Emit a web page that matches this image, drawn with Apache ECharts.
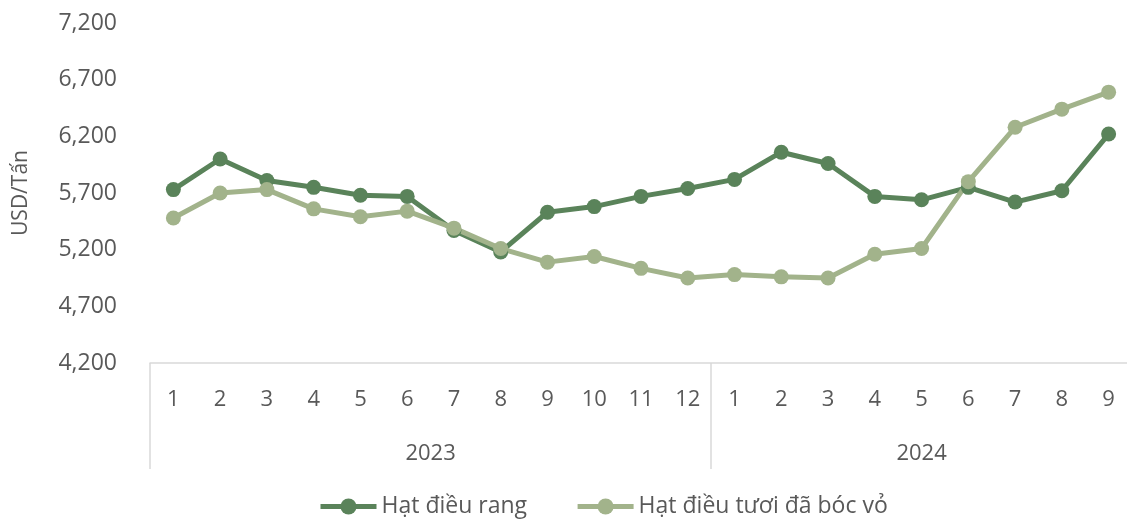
<!DOCTYPE html>
<html>
<head>
<meta charset="utf-8">
<script src="https://cdn.jsdelivr.net/npm/echarts@6/dist/echarts.min.js"></script>
<style>html,body{margin:0;padding:0;background:#fff;}#c{width:1127px;height:519px;}</style>
</head>
<body>
<div id="c"></div>
<script>
const months = ['1','2','3','4','5','6','7','8','9','10','11','12','1','2','3','4','5','6','7','8','9'];
const years = ['2023','2024'];
const yearSpans = [12, 9];
const roasted = [5730,6000,5810,5750,5680,5670,5370,5180,5530,5580,5670,5740,5820,6060,5960,5670,5640,5750,5620,5720,6220];
const fresh = [5480,5700,5730,5560,5490,5540,5390,5210,5090,5140,5035,4950,4980,4960,4950,5160,5210,5800,6280,6440,6590];
const seriesNames = ['Hạt điều rang','Hạt điều tươi đã bóc vỏ'];
const yMin = 4200, yMax = 7200, yStep = 500;

const font = 'Open Sans';
const txt = '#595959';
const dark = '#5A835A';
const light = '#A2B38B';

const yearCentres = [];
let acc = 0;
yearSpans.forEach(s => { yearCentres.push(acc + s / 2); acc += s; });

const chart = echarts.init(document.getElementById('c'));
chart.setOption({
  animation: false,
  textStyle: { fontFamily: font },
  grid: { left: 150, width: 982, top: 23, bottom: 156, containLabel: false, outerBoundsMode: 'none' },
  legend: {
    data: seriesNames,
    top: 490,
    left: 313,
    itemWidth: 56,
    itemHeight: 20,
    itemGap: 48,
    lineStyle: { width: 5 },
    textStyle: { color: txt, fontSize: 23, fontFamily: font }
  },
  xAxis: [
    {
      type: 'category',
      data: months,
      boundaryGap: true,
      axisLine: { show: true, lineStyle: { color: '#D9D9D9', width: 1.5 } },
      axisTick: {
        show: true, length: 106, alignWithLabel: false,
        interval: function (i) { return i === 0 || i === 12; },
        lineStyle: { color: '#D9D9D9', width: 1.5 }
      },
      axisLabel: { color: txt, fontSize: 22, margin: 26, interval: 0, fontFamily: font },
      splitLine: { show: false }
    },
    {
      type: 'value',
      position: 'bottom',
      min: 0, max: months.length, interval: 0.5,
      axisLine: { show: false }, axisTick: { show: false }, splitLine: { show: false },
      axisLabel: {
        color: txt, fontSize: 22, margin: 80, fontFamily: font, showMinLabel: true, showMaxLabel: true,
        formatter: function (v) {
          const k = yearCentres.findIndex(c => Math.abs(c - v) < 1e-6);
          return k >= 0 ? years[k] : '';
        }
      }
    }
  ],
  yAxis: {
    type: 'value',
    min: yMin, max: yMax, interval: yStep,
    name: 'USD/Tấn',
    nameLocation: 'middle',
    nameGap: 118,
    nameRotate: 90,
    nameTextStyle: { color: txt, fontSize: 21, fontFamily: font },
    axisLine: { show: false }, axisTick: { show: false },
    splitLine: { show: false },
    axisLabel: {
      color: txt, fontSize: 23, margin: 33, fontFamily: font,
      formatter: v => v.toLocaleString('en-US')
    }
  },
  series: [
    {
      name: seriesNames[0], type: 'line', xAxisIndex: 0, data: roasted,
      symbol: 'circle', symbolSize: 15,
      lineStyle: { color: dark, width: 5 },
      itemStyle: { color: dark }
    },
    {
      name: seriesNames[1], type: 'line', xAxisIndex: 0, data: fresh,
      symbol: 'circle', symbolSize: 15,
      lineStyle: { color: light, width: 5 },
      itemStyle: { color: light }
    }
  ]
});
</script>
</body>
</html>
